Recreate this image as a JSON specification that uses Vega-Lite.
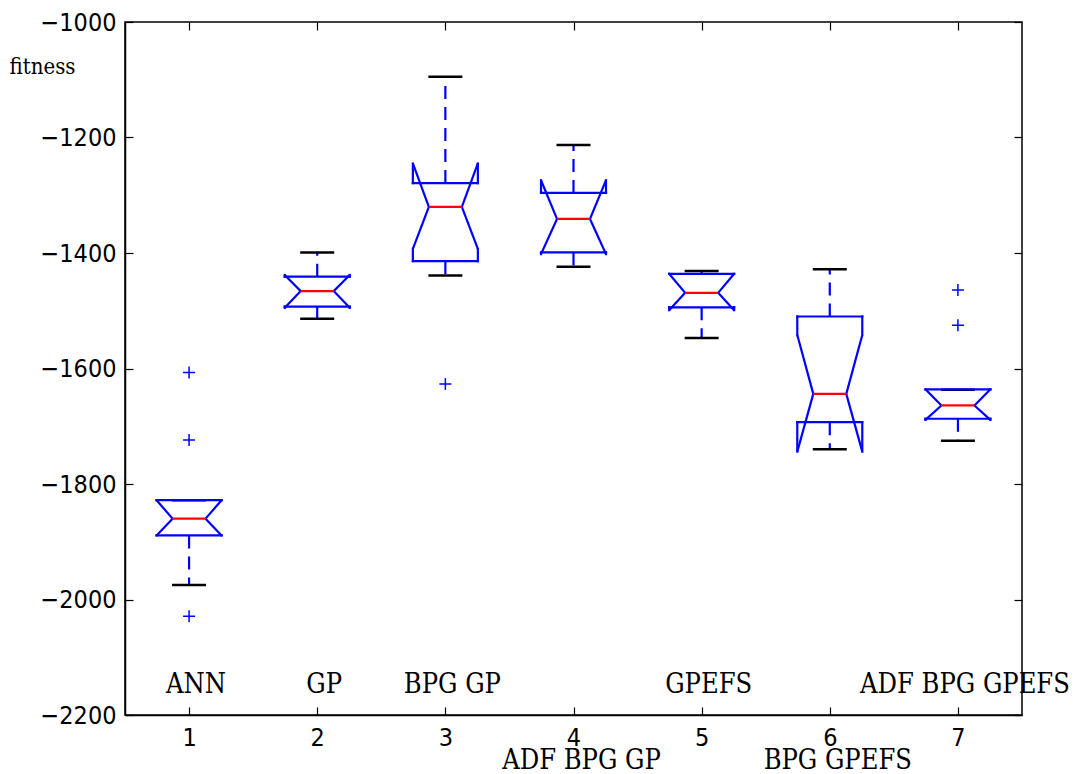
{
  "$schema": "https://vega.github.io/schema/vega-lite/v6.json",
  "width": 897,
  "height": 693,
  "autosize": "none",
  "padding": {"left": 125, "top": 22, "right": 59, "bottom": 59},
  "background": "white",
  "config": {
    "view": {"stroke": "#000000", "strokeWidth": 1.5},
    "axis": {
      "grid": false,
      "domainColor": "#000000",
      "domainWidth": 1.5,
      "tickColor": "#000000",
      "tickWidth": 1.2,
      "tickSize": -8,
      "labelColor": "#000000",
      "labelFont": "'DejaVu Sans Condensed', 'DejaVu Sans', sans-serif",
      "labelFontSize": 25
    }
  },
  "datasets": {
    "boxes": [
      {"pos": 1, "label": "ANN", "whisLo": -1975, "q1": -1889, "notchLo": -1889, "med": -1860, "notchHi": -1828, "q3": -1828, "whisHi": -1828},
      {"pos": 2, "label": "GP", "whisLo": -1514, "q1": -1493, "notchLo": -1495, "med": -1466, "notchHi": -1438, "q3": -1441, "whisHi": -1399},
      {"pos": 3, "label": "BPG GP", "whisLo": -1439, "q1": -1414, "notchLo": -1393, "med": -1320, "notchHi": -1245, "q3": -1279, "whisHi": -1095},
      {"pos": 4, "label": "ADF BPG GP", "whisLo": -1424, "q1": -1399, "notchLo": -1402, "med": -1341, "notchHi": -1274, "q3": -1296, "whisHi": -1213},
      {"pos": 5, "label": "GPEFS", "whisLo": -1547, "q1": -1494, "notchLo": -1499, "med": -1469, "notchHi": -1436, "q3": -1436, "whisHi": -1431},
      {"pos": 6, "label": "BPG GPEFS", "whisLo": -1740, "q1": -1693, "notchLo": -1744, "med": -1644, "notchHi": -1542, "q3": -1510, "whisHi": -1428},
      {"pos": 7, "label": "ADF BPG GPEFS", "whisLo": -1725, "q1": -1687, "notchLo": -1689, "med": -1664, "notchHi": -1636, "q3": -1636, "whisHi": -1637}
    ],
    "outliers": [
      {"pos": 1, "value": -1607},
      {"pos": 1, "value": -1724},
      {"pos": 1, "value": -2029},
      {"pos": 3, "value": -1627},
      {"pos": 7, "value": -1464},
      {"pos": 7, "value": -1525}
    ]
  },
  "layer": [
    {
      "data": {"name": "boxes"},
      "layer": [
        {
          "mark": {"type": "rule", "color": "#0000ff", "strokeWidth": 2.2, "strokeDash": [13, 8]},
          "encoding": {
            "x": {"field": "pos", "type": "quantitative", "scale": {"domain": [0.5, 7.5], "nice": false, "zero": false},
                  "axis": {"orient": "bottom", "values": [1, 2, 3, 4, 5, 6, 7], "format": "d", "labelPadding": 18, "title": null}},
            "y": {"field": "q3", "type": "quantitative", "scale": {"domain": [-2200, -1000], "nice": false, "zero": false},
                  "axis": {"orient": "left", "values": [-2200, -2000, -1800, -1600, -1400, -1200, -1000], "format": "d", "labelPadding": 17,
                           "title": "fitness", "titleAngle": 0, "titleAlign": "center", "titleBaseline": "alphabetic",
                           "titleX": -83, "titleY": 51, "titleFont": "'DejaVu Serif Condensed', 'DejaVu Serif', serif",
                           "titleFontSize": 22, "titleFontWeight": "normal", "titleColor": "#000000"}},
            "y2": {"field": "whisHi"}
          }
        },
        {
          "mark": {"type": "rule", "color": "#0000ff", "strokeWidth": 2.2, "strokeDash": [13, 8]},
          "encoding": {"x": {"field": "pos", "type": "quantitative"}, "y": {"field": "q1", "type": "quantitative"}, "y2": {"field": "whisLo"}}
        },
        {
          "mark": {"type": "rule", "color": "#000000", "strokeWidth": 2.5, "xOffset": -17, "x2Offset": 17},
          "encoding": {"x": {"field": "pos", "type": "quantitative"}, "x2": {"field": "pos"}, "y": {"field": "whisHi", "type": "quantitative"}}
        },
        {
          "mark": {"type": "rule", "color": "#000000", "strokeWidth": 2.5, "xOffset": -17, "x2Offset": 17},
          "encoding": {"x": {"field": "pos", "type": "quantitative"}, "x2": {"field": "pos"}, "y": {"field": "whisLo", "type": "quantitative"}}
        },
        {
          "mark": {"type": "rule", "color": "#0000ff", "strokeWidth": 2.2, "strokeCap": "square", "xOffset": -32.5, "x2Offset": 32.5},
          "encoding": {"x": {"field": "pos", "type": "quantitative"}, "x2": {"field": "pos"}, "y": {"field": "q1", "type": "quantitative"}}
        },
        {
          "mark": {"type": "rule", "color": "#0000ff", "strokeWidth": 2.2, "strokeCap": "square", "xOffset": -32.5, "x2Offset": 32.5},
          "encoding": {"x": {"field": "pos", "type": "quantitative"}, "x2": {"field": "pos"}, "y": {"field": "q3", "type": "quantitative"}}
        },
        {
          "mark": {"type": "rule", "color": "#0000ff", "strokeWidth": 2.2, "strokeCap": "square", "xOffset": 32.5},
          "encoding": {"x": {"field": "pos", "type": "quantitative"}, "y": {"field": "q1", "type": "quantitative"}, "y2": {"field": "notchLo"}}
        },
        {
          "mark": {"type": "rule", "color": "#0000ff", "strokeWidth": 2.2, "strokeCap": "square", "xOffset": -32.5},
          "encoding": {"x": {"field": "pos", "type": "quantitative"}, "y": {"field": "q1", "type": "quantitative"}, "y2": {"field": "notchLo"}}
        },
        {
          "mark": {"type": "rule", "color": "#0000ff", "strokeWidth": 2.2, "strokeCap": "square", "xOffset": 32.5},
          "encoding": {"x": {"field": "pos", "type": "quantitative"}, "y": {"field": "notchHi", "type": "quantitative"}, "y2": {"field": "q3"}}
        },
        {
          "mark": {"type": "rule", "color": "#0000ff", "strokeWidth": 2.2, "strokeCap": "square", "xOffset": -32.5},
          "encoding": {"x": {"field": "pos", "type": "quantitative"}, "y": {"field": "notchHi", "type": "quantitative"}, "y2": {"field": "q3"}}
        },
        {
          "mark": {"type": "rule", "color": "#0000ff", "strokeWidth": 2.2, "xOffset": 32.5, "x2Offset": 16.5},
          "encoding": {"x": {"field": "pos", "type": "quantitative"}, "x2": {"field": "pos"}, "y": {"field": "notchLo", "type": "quantitative"}, "y2": {"field": "med"}}
        },
        {
          "mark": {"type": "rule", "color": "#0000ff", "strokeWidth": 2.2, "xOffset": -32.5, "x2Offset": -16.5},
          "encoding": {"x": {"field": "pos", "type": "quantitative"}, "x2": {"field": "pos"}, "y": {"field": "notchLo", "type": "quantitative"}, "y2": {"field": "med"}}
        },
        {
          "mark": {"type": "rule", "color": "#0000ff", "strokeWidth": 2.2, "xOffset": 32.5, "x2Offset": 16.5},
          "encoding": {"x": {"field": "pos", "type": "quantitative"}, "x2": {"field": "pos"}, "y": {"field": "notchHi", "type": "quantitative"}, "y2": {"field": "med"}}
        },
        {
          "mark": {"type": "rule", "color": "#0000ff", "strokeWidth": 2.2, "xOffset": -32.5, "x2Offset": -16.5},
          "encoding": {"x": {"field": "pos", "type": "quantitative"}, "x2": {"field": "pos"}, "y": {"field": "notchHi", "type": "quantitative"}, "y2": {"field": "med"}}
        },
        {
          "mark": {"type": "rule", "color": "#ff0000", "strokeWidth": 2.2, "xOffset": -16.5, "x2Offset": 16.5},
          "encoding": {"x": {"field": "pos", "type": "quantitative"}, "x2": {"field": "pos"}, "y": {"field": "med", "type": "quantitative"}}
        },
        {
          "data": {"name": "outliers"},
          "mark": {"type": "point", "shape": "M-1,0L1,0M0,-1L0,1", "size": 144, "filled": false, "color": "#0000ff", "strokeWidth": 1.5, "opacity": 1},
          "encoding": {"x": {"field": "pos", "type": "quantitative"}, "y": {"field": "value", "type": "quantitative"}}
        },
        {
          "transform": [{"filter": "datum.pos != 4 && datum.pos != 6"}],
          "mark": {"type": "text", "font": "'DejaVu Serif Condensed', 'DejaVu Serif', serif", "fontSize": 27, "color": "#000000", "align": "center", "baseline": "alphabetic", "dx": 7},
          "encoding": {"x": {"field": "pos", "type": "quantitative"}, "y": {"datum": -2162, "type": "quantitative"}, "text": {"field": "label"}}
        },
        {
          "transform": [{"filter": "datum.pos == 4 || datum.pos == 6"}],
          "mark": {"type": "text", "font": "'DejaVu Serif Condensed', 'DejaVu Serif', serif", "fontSize": 27, "color": "#000000", "align": "center", "baseline": "alphabetic", "dx": 8},
          "encoding": {"x": {"field": "pos", "type": "quantitative"}, "y": {"datum": -2294, "type": "quantitative"}, "text": {"field": "label"}}
        }
      ]
    },
    {
      "data": {"name": "outliers"},
      "mark": {"type": "point", "opacity": 0},
      "encoding": {
        "x": {"field": "pos", "type": "quantitative", "axis": {"orient": "top", "values": [1, 2, 3, 4, 5, 6, 7], "labels": false, "domain": false, "title": null}},
        "y": {"field": "value", "type": "quantitative", "axis": {"orient": "right", "values": [-2200, -2000, -1800, -1600, -1400, -1200, -1000], "labels": false, "domain": false, "title": null}}
      }
    }
  ],
  "resolve": {"axis": {"x": "independent", "y": "independent"}}
}
